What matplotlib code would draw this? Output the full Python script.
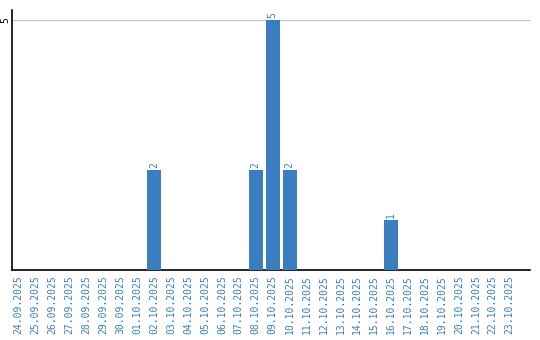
import matplotlib.pyplot as plt

dates = ['24.09.2025', '25.09.2025', '26.09.2025', '27.09.2025', '28.09.2025',
         '29.09.2025', '30.09.2025', '01.10.2025', '02.10.2025', '03.10.2025',
         '04.10.2025', '05.10.2025', '06.10.2025', '07.10.2025', '08.10.2025',
         '09.10.2025', '10.10.2025', '11.10.2025', '12.10.2025', '13.10.2025',
         '14.10.2025', '15.10.2025', '16.10.2025', '17.10.2025', '18.10.2025',
         '19.10.2025', '20.10.2025', '21.10.2025', '22.10.2025', '23.10.2025']
counts = [0, 0, 0, 0, 0, 0, 0, 0, 2, 0,
          0, 0, 0, 0, 2, 5, 2, 0, 0, 0,
          0, 0, 1, 0, 0, 0, 0, 0, 0, 0]

BLUE = '#3a7ec1'

fig = plt.figure(figsize=(5.4, 3.4), dpi=100)
ax = fig.add_axes([0.0222, 0.2059, 0.9593, 0.7647])

x = list(range(len(dates)))
ax.bar(x, counts, width=0.82, color=BLUE, zorder=3)

for i, v in enumerate(counts):
    if v > 0:
        ax.text(i, v + 0.03, str(v), rotation=90, ha='center', va='bottom',
                color=BLUE, fontsize=7, family='DejaVu Sans Mono')

ax.set_xlim(-0.4, 30.2)
ax.set_ylim(0, 5.2)
ax.set_xticks(x)
ax.set_xticklabels(dates, rotation=90, color=BLUE, fontsize=7,
                   family='DejaVu Sans Mono')
ax.set_yticks([5])
ax.set_yticklabels(['5'], rotation=90, va='center', fontsize=7,
                   family='DejaVu Sans Mono')
ax.tick_params(axis='x', length=0, pad=4)
ax.tick_params(axis='y', length=0, pad=1)
ax.grid(axis='y', color='#c8c8c8', linewidth=1, zorder=0)

for s in ['top', 'right']:
    ax.spines[s].set_visible(False)
ax.spines['left'].set_linewidth(1.2)
ax.spines['bottom'].set_linewidth(1.2)

fig.savefig('out.png', dpi=100)
